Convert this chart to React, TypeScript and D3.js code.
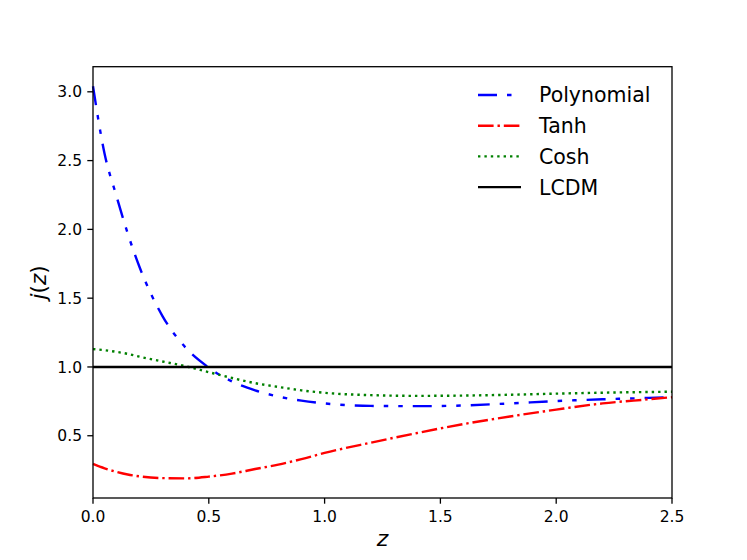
import * as d3 from 'd3';

// redshift grid shared by the three model curves
const Z = [0, 0.05, 0.1, 0.15, 0.2, 0.3, 0.4, 0.5, 0.6, 0.7, 0.8, 0.9, 1.0, 1.2, 1.4, 1.6, 1.8, 2.0, 2.2, 2.4, 2.5];

const POLYNOMIAL = [3.04, 2.55, 2.25, 1.97, 1.73, 1.37, 1.14, 0.995, 0.895, 0.83, 0.785, 0.755, 0.735, 0.717, 0.715, 0.72, 0.735, 0.752, 0.765, 0.775, 0.78];
const TANH = [0.295, 0.263, 0.238, 0.218, 0.205, 0.192, 0.19, 0.203, 0.225, 0.258, 0.29, 0.33, 0.375, 0.45, 0.52, 0.585, 0.64, 0.69, 0.735, 0.765, 0.78];
const COSH = [1.13, 1.122, 1.11, 1.095, 1.075, 1.04, 1.005, 0.962, 0.92, 0.882, 0.855, 0.83, 0.812, 0.795, 0.79, 0.792, 0.798, 0.806, 0.813, 0.818, 0.82];

const LCDM_Z = [0, 2.5];
const LCDM = [1, 1];

const X_TICKS = [0, 0.5, 1.0, 1.5, 2.0, 2.5];
const Y_TICKS = [0.5, 1.0, 1.5, 2.0, 2.5, 3.0];

const SERIES = [
  { name: 'Polynomial', z: Z, j: POLYNOMIAL, color: '#0000ff', dash: '19 10 4.5 10 4.5 10' },
  { name: 'Tanh', z: Z, j: TANH, color: '#ff0000', dash: '15.6 3.9 2.4 3.9' },
  { name: 'Cosh', z: Z, j: COSH, color: '#008000', dash: '2.4 4' },
  { name: 'LCDM', z: LCDM_Z, j: LCDM, color: '#000000', dash: 'none' },
];

const W = 747;
const H = 560;
const FONT = '"DejaVu Sans", sans-serif';

export default function App() {
  const left = 93, right = 672, top = 66.7, bottom = 498;

  const x = d3.scaleLinear().domain([0, 2.5]).range([left, right]);
  // matplotlib-style 5% padding around the data range
  const yMin = 0.19, yMax = 3.04;
  const pad = (yMax - yMin) * 0.05;
  const y = d3.scaleLinear().domain([yMin - pad, yMax + pad]).range([bottom, top]);

  const line = (zs: number[], js: number[]) =>
    d3.line<number>()
      .x((_, i) => x(zs[i]))
      .y((d) => y(d))
      .curve(d3.curveMonotoneX)(js) || '';

  const tickLen = 5.7;

  return (
    <svg width={W} height={H} style={{ position: 'absolute', left: 0, top: 0, background: '#fff' }}>
      <rect x={0} y={0} width={W} height={H} fill="#fff" />

      {/* curves */}
      {SERIES.map((s) => (
        <path
          key={s.name}
          d={line(s.z, s.j)}
          fill="none"
          stroke={s.color}
          strokeWidth={2.4}
          strokeDasharray={s.dash}
          strokeLinecap="butt"
        />
      ))}

      {/* frame */}
      <rect x={left} y={top} width={right - left} height={bottom - top} fill="none" stroke="#000" strokeWidth={1.3} />

      {/* x ticks */}
      {X_TICKS.map((t) => (
        <g key={'x' + t}>
          <line x1={x(t)} x2={x(t)} y1={bottom} y2={bottom + tickLen} stroke="#000" strokeWidth={1.3} />
          <text x={x(t)} y={522} textAnchor="middle" fontFamily={FONT} fontSize={15.5} fill="#000">
            {t.toFixed(1)}
          </text>
        </g>
      ))}

      {/* y ticks */}
      {Y_TICKS.map((t) => (
        <g key={'y' + t}>
          <line x1={left - tickLen} x2={left} y1={y(t)} y2={y(t)} stroke="#000" strokeWidth={1.3} />
          <text x={82} y={y(t) + 5.6} textAnchor="end" fontFamily={FONT} fontSize={15.5} fill="#000">
            {t.toFixed(1)}
          </text>
        </g>
      ))}

      {/* axis labels */}
      <text x={(left + right) / 2} y={546} textAnchor="middle" fontFamily={FONT} fontSize={22} fontStyle="italic">
        z
      </text>
      <text
        transform={`translate(46,${(top + bottom) / 2}) rotate(-90)`}
        textAnchor="middle"
        fontFamily={FONT}
        fontSize={21.5}
      >
        <tspan fontStyle="italic">j</tspan>(<tspan fontStyle="italic">z</tspan>)
      </text>

      {/* legend */}
      {SERIES.map((s, i) => {
        const cy = 95 + i * 30.7;
        return (
          <g key={'leg' + s.name}>
            <line
              x1={478}
              x2={521}
              y1={cy}
              y2={cy}
              stroke={s.color}
              strokeWidth={2.4}
              strokeDasharray={s.dash}
            />
            <text x={539} y={cy + 7.4} fontFamily={FONT} fontSize={20.5} fill="#000">
              {s.name}
            </text>
          </g>
        );
      })}
    </svg>
  );
}
